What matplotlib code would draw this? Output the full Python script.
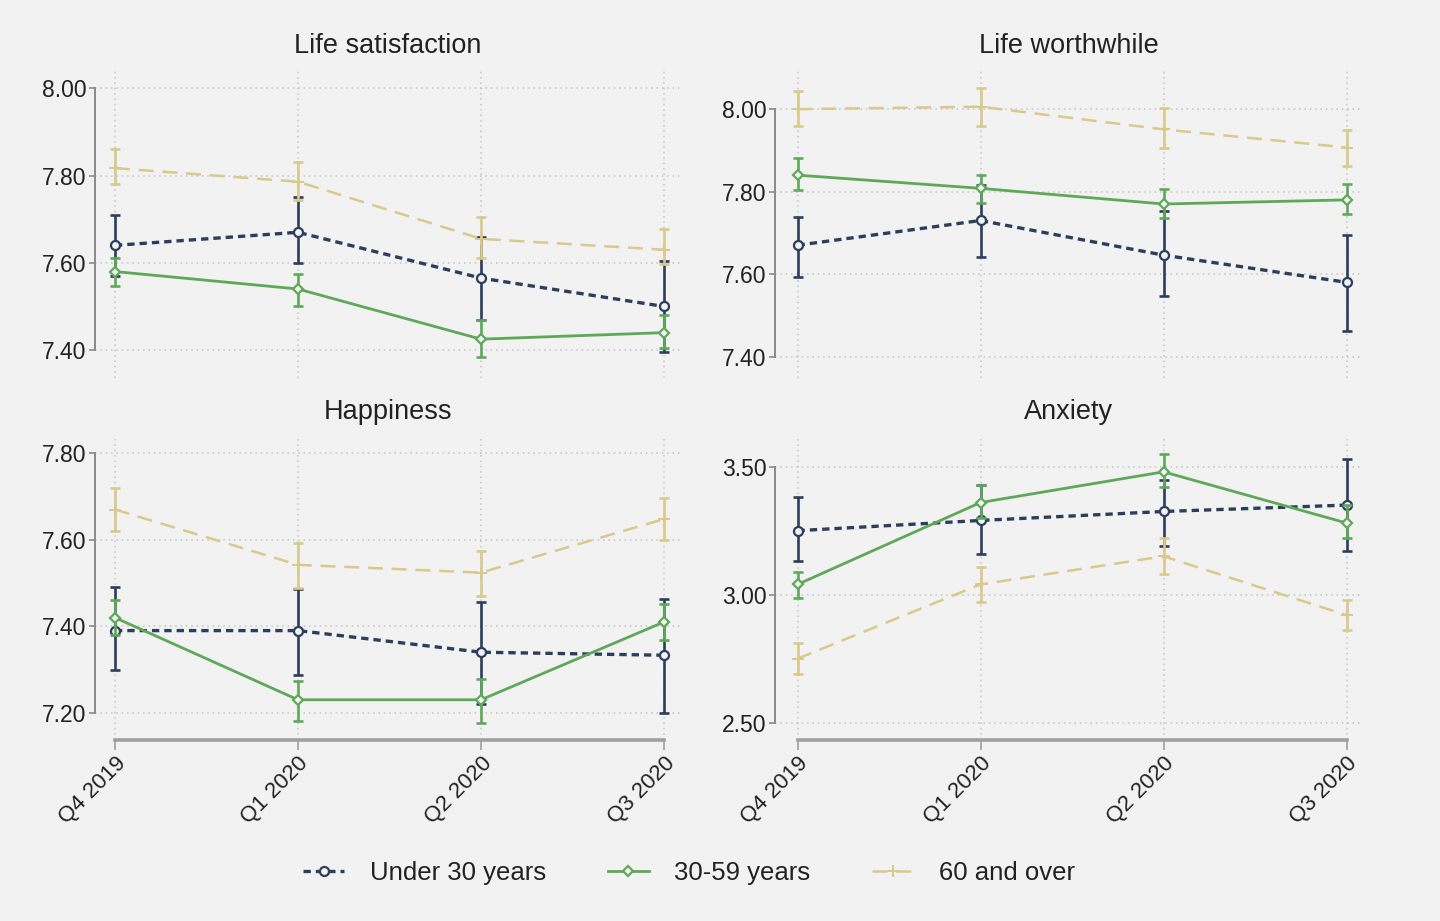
import matplotlib
matplotlib.use("Agg")
import matplotlib.pyplot as plt
import numpy as np

plt.rcParams['font.family'] = ['Liberation Sans', 'DejaVu Sans']

quarters = ["Q4 2019", "Q1 2020", "Q2 2020", "Q3 2020"]
groups = ["Under 30 years", "30-59 years", "60 and over"]

# Life satisfaction
ls_u30 = [7.64, 7.67, 7.565, 7.50]
ls_u30_lo = [7.57, 7.60, 7.47, 7.395]
ls_u30_hi = [7.71, 7.75, 7.66, 7.605]
ls_mid = [7.58, 7.54, 7.425, 7.44]
ls_mid_lo = [7.548, 7.50, 7.385, 7.405]
ls_mid_hi = [7.61, 7.575, 7.47, 7.48]
ls_old = [7.817, 7.786, 7.655, 7.63]
ls_old_lo = [7.78, 7.745, 7.61, 7.597]
ls_old_hi = [7.86, 7.83, 7.705, 7.677]

# Life worthwhile
lw_u30 = [7.67, 7.73, 7.646, 7.58]
lw_u30_lo = [7.592, 7.641, 7.547, 7.463]
lw_u30_hi = [7.739, 7.815, 7.752, 7.694]
lw_mid = [7.84, 7.808, 7.77, 7.78]
lw_mid_lo = [7.804, 7.772, 7.735, 7.745]
lw_mid_hi = [7.882, 7.84, 7.806, 7.818]
lw_old = [8.00, 8.006, 7.951, 7.907]
lw_old_lo = [7.96, 7.96, 7.907, 7.862]
lw_old_hi = [8.043, 8.052, 8.003, 7.95]

# Happiness
ha_u30 = [7.39, 7.39, 7.34, 7.333]
ha_u30_lo = [7.30, 7.287, 7.22, 7.20]
ha_u30_hi = [7.49, 7.486, 7.456, 7.464]
ha_mid = [7.42, 7.23, 7.23, 7.41]
ha_mid_lo = [7.38, 7.18, 7.177, 7.368]
ha_mid_hi = [7.46, 7.273, 7.277, 7.452]
ha_old = [7.67, 7.542, 7.524, 7.648]
ha_old_lo = [7.62, 7.488, 7.47, 7.60]
ha_old_hi = [7.72, 7.593, 7.575, 7.697]

# Anxiety
an_u30 = [3.25, 3.29, 3.325, 3.35]
an_u30_lo = [3.13, 3.16, 3.19, 3.17]
an_u30_hi = [3.38, 3.43, 3.45, 3.53]
an_mid = [3.04, 3.36, 3.48, 3.28]
an_mid_lo = [2.985, 3.30, 3.42, 3.22]
an_mid_hi = [3.09, 3.43, 3.55, 3.35]
an_old = [2.75, 3.04, 3.15, 2.92]
an_old_lo = [2.69, 2.97, 3.08, 2.86]
an_old_hi = [2.81, 3.11, 3.22, 2.98]

panels = [
    ("Life satisfaction", [(ls_u30, ls_u30_lo, ls_u30_hi), (ls_mid, ls_mid_lo, ls_mid_hi), (ls_old, ls_old_lo, ls_old_hi)],
     [7.40, 7.60, 7.80, 8.00], (7.336, 8.042)),
    ("Life worthwhile", [(lw_u30, lw_u30_lo, lw_u30_hi), (lw_mid, lw_mid_lo, lw_mid_hi), (lw_old, lw_old_lo, lw_old_hi)],
     [7.40, 7.60, 7.80, 8.00], (7.348, 8.095)),
    ("Happiness", [(ha_u30, ha_u30_lo, ha_u30_hi), (ha_mid, ha_mid_lo, ha_mid_hi), (ha_old, ha_old_lo, ha_old_hi)],
     [7.20, 7.40, 7.60, 7.80], (7.137, 7.840)),
    ("Anxiety", [(an_u30, an_u30_lo, an_u30_hi), (an_mid, an_mid_lo, an_mid_hi), (an_old, an_old_lo, an_old_hi)],
     [2.50, 3.00, 3.50], (2.432, 3.620)),
]

BG = "#f2f2f2"
colors = ["#2c3e5c", "#5fa85a", "#d8c98c"]
styles = [
    dict(ls=(0, (2.2, 1.5)), lw=2.4, marker='o', ms=6.5, mew=1.6),
    dict(ls='-', lw=2.0, marker='D', ms=5.5, mew=1.6),
    dict(ls=(0, (6, 3.5)), lw=1.8, marker='+', ms=8, mew=1.4),
]

W, H = 1440, 921
fig = plt.figure(figsize=(W / 100, H / 100), dpi=100, facecolor=BG)

positions = [
    (95, 680, 70, 378, (-0.109, 3.087)),
    (775, 1363, 70, 378, (-0.123, 3.09)),
    (95, 680, 436, 740, (-0.109, 3.087)),
    (775, 1363, 436, 740, (-0.123, 3.09)),
]

x = np.arange(len(quarters))
legend_handles = []
for i, ((title, series, yticks, ylim), (l, r, t, b, xlim)) in enumerate(zip(panels, positions)):
    ax = fig.add_axes([l / W, 1 - b / H, (r - l) / W, (b - t) / H])
    ax.set_facecolor(BG)
    for k, ((c, lo, hi), col, st) in enumerate(zip(series, colors, styles)):
        c = np.array(c); lo = np.array(lo); hi = np.array(hi)
        ax.errorbar(x, c, yerr=[c - lo, hi - c], fmt='none', ecolor=col,
                    elinewidth=1.9, capsize=3.5, capthick=1.9, zorder=2 + k)
        line, = ax.plot(x, c, color=col, linestyle=st['ls'], lw=st['lw'],
                        marker=st['marker'], ms=st['ms'], mew=st['mew'],
                        mfc=BG if st['marker'] != '+' else col, mec=col,
                        label=groups[k], zorder=3 + k)
        if i == 0:
            legend_handles.append(line)
    ax.set_xlim(*xlim)
    ax.set_ylim(*ylim)
    ax.set_yticks(yticks)
    ax.set_yticklabels([f"{v:.2f}" for v in yticks], fontsize=16.5)
    ax.set_xticks(x)
    ax.grid(True, color="#c4c4c4", linestyle=(0, (1, 2.5)), lw=1.1)
    ax.set_axisbelow(True)
    for s in ['top', 'right']:
        ax.spines[s].set_visible(False)
    ax.spines['left'].set_bounds(yticks[0], yticks[-1])
    ax.spines['left'].set_color("#8a8a8a")
    ax.spines['left'].set_linewidth(1.4)
    ax.tick_params(axis='y', length=4, width=1.2, color="#8a8a8a", pad=2, labelcolor="#222222")
    if i < 2:
        ax.spines['bottom'].set_visible(False)
        ax.tick_params(axis='x', length=0, labelbottom=False)
    else:
        ax.spines['bottom'].set_bounds(0, 3)
        ax.spines['bottom'].set_color("#a0a0a0")
        ax.spines['bottom'].set_linewidth(2.6)
        ax.set_xticklabels(quarters, fontsize=16, rotation=45, ha='right',
                           rotation_mode='anchor', color="#222222")
        ax.tick_params(axis='x', length=7, width=1.2, color="#a0a0a0", pad=2)
    ax.set_title(title, fontsize=19.5, pad=12, color="#222222")

fig.legend(handles=legend_handles, loc='center', bbox_to_anchor=(0.4785, 1 - 873 / H),
           ncol=3, frameon=False, fontsize=18.5, handlelength=1.6,
           handletextpad=1.0, columnspacing=2.4, numpoints=1, labelcolor="#222222")

fig.savefig("out.png", dpi=100, facecolor=BG)
